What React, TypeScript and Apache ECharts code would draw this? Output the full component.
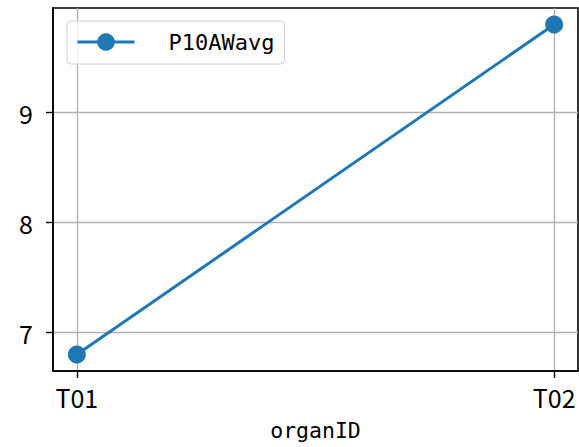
import React, { useEffect, useRef } from "react";
import * as echarts from "echarts";

const categories = ["T01", "T02"];
const seriesName = "P10AWavg";
const values = [6.8, 9.8];
const yTicks = [7, 8, 9];

const TICK_FONT = "'Liberation Sans Narrow', 'Noto Sans CJK SC', sans-serif";
const MONO = "'DejaVu Sans Mono', monospace";

export default function App() {
  const ref = useRef<HTMLDivElement>(null);
  useEffect(() => {
    if (!ref.current) return;
    const chart = echarts.init(ref.current, null, { renderer: "svg" });
    const xIdx = categories.map((_, i) => i);
    chart.setOption({
      animation: false,
      backgroundColor: "#ffffff",
      grid: {
        left: 53,
        right: 1,
        top: 8,
        bottom: 76,
        show: true,
        borderColor: "#000",
        borderWidth: 1.6,
        backgroundColor: "transparent",
      },
      legend: {
        left: 67,
        top: 21,
        orient: "vertical",
        data: [seriesName],
        itemWidth: 57,
        itemHeight: 22,
        padding: [10, 10, 11, 9],
        borderColor: "#d0d0d0",
        borderWidth: 1,
        borderRadius: 4,
        backgroundColor: "rgba(255,255,255,0.8)",
        lineStyle: { width: 3 },
        textStyle: {
          fontFamily: MONO,
          fontSize: 22,
          lineHeight: 22,
          color: "#000",
          padding: [0, 0, 0, 29],
        },
      },
      xAxis: {
        type: "value",
        min: -0.05,
        max: 1.05,
        name: "organID",
        nameLocation: "middle",
        nameGap: 48,
        nameTextStyle: { fontFamily: MONO, fontSize: 21.5, color: "#000" },
        axisLine: { show: true, onZero: false, lineStyle: { color: "#000", width: 1.6 } },
        axisTick: {
          show: true,
          length: 7,
          inside: false,
          lineStyle: { color: "#000", width: 1.4 },
          customValues: xIdx,
        },
        axisLabel: {
          show: true,
          margin: 13,
          fontFamily: TICK_FONT,
          fontSize: 25,
          color: "#000",
          customValues: xIdx,
          formatter: (v: number) => categories[Math.round(v)] ?? "",
        },
        splitLine: { show: true, lineStyle: { color: "#b0b0b0", width: 1.3 } },
      },
      yAxis: {
        type: "value",
        min: 6.65,
        max: 9.95,
        axisLine: { show: true, onZero: false, lineStyle: { color: "#000", width: 1.6 } },
        axisTick: {
          show: true,
          length: 7,
          inside: false,
          lineStyle: { color: "#000", width: 1.4 },
          customValues: yTicks,
        },
        axisLabel: {
          show: true,
          margin: 20,
          fontFamily: TICK_FONT,
          fontSize: 25,
          color: "#000",
          customValues: yTicks,
          formatter: (v: number) => String(v),
        },
        splitLine: { show: true, lineStyle: { color: "#b0b0b0", width: 1.3 } },
      },
      series: [
        {
          name: seriesName,
          type: "line",
          data: values.map((v, i) => [xIdx[i], v]),
          symbol: "circle",
          symbolSize: 18,
          itemStyle: { color: "#1f77b4" },
          lineStyle: { color: "#1f77b4", width: 3 },
        },
      ],
    });
    return () => chart.dispose();
  }, []);
  return <div ref={ref} style={{ width: 579, height: 447, position: "absolute", left: 0, top: 0 }} />;
}
